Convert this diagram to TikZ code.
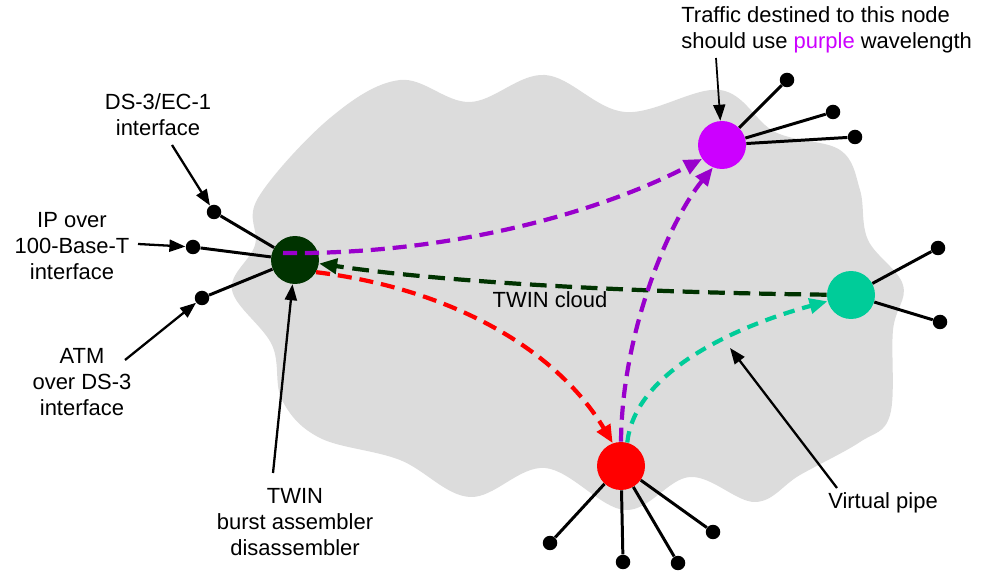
\documentclass[tikz,border=0pt]{standalone}
\usepackage{fontspec}
\setmainfont{Liberation Sans}
\usetikzlibrary{arrows.meta,calc}

\definecolor{cloudgray}{HTML}{DCDCDC}
\definecolor{hubdark}{HTML}{003300}
\definecolor{hubpurple}{HTML}{CC00FF}
\definecolor{pipepurple}{HTML}{9900CC}
\definecolor{hubteal}{HTML}{00CC99}
\definecolor{hubred}{HTML}{FF0000}

\tikzset{
  stub/.style={line width=1.7pt, draw=black},
  dot/.style={circle, fill=black, inner sep=0pt, minimum size=0.29cm},
  hub/.style={circle, inner sep=0pt, minimum size=0.96cm},
  callout/.style={line width=1.3pt, draw=black, -{Triangle[length=0.32cm,width=0.24cm]}},
  pipe/.style={line width=2.4pt, dash pattern=on 8pt off 4.5pt, -{Triangle[length=0.36cm,width=0.3cm]}},
  lbl/.style={font=\fontsize{12.5}{14.8}\selectfont, align=center, inner sep=0pt}
}

\begin{document}
\begin{tikzpicture}[x=0.02cm, y=-0.02cm]
\useasboundingbox (0,0) rectangle (993,573);

% the TWIN cloud
\fill[cloudgray] plot[smooth cycle, tension=0.6] coordinates {
 (258,198) (330,118) (400,80) (470,102) (545,75) (625,112) (720,90) (775,132)
 (840,150) (860,190) (868,240) (903,285) (893,330) (890,415) (860,442) (800,475)
 (755,502) (690,477) (625,510) (545,468) (470,497) (400,460) (320,438) (282,400)
 (272,345) (232,290) (255,245)};

% edge nodes
\node[hub, fill=hubdark]   (tb) at (295,260) {};
\node[hub, fill=hubpurple] (pn) at (722,145) {};
\node[hub, fill=hubteal]   (gn) at (851,295) {};
\node[hub, fill=hubred]    (rn) at (621,466) {};

% access ports
\node[dot] (t1) at (214,212) {};
\node[dot] (t2) at (193,247) {};
\node[dot] (t3) at (202,298) {};
\node[dot] (p1) at (787,80) {};
\node[dot] (p2) at (833,112) {};
\node[dot] (p3) at (855,137) {};
\node[dot] (g1) at (938,248) {};
\node[dot] (g2) at (940,322) {};
\node[dot] (r1) at (550,543) {};
\node[dot] (r2) at (623,562) {};
\node[dot] (r3) at (678,563) {};
\node[dot] (r4) at (713,532) {};

\draw[stub] (tb) -- (t1);
\draw[stub] (tb) -- (t2);
\draw[stub] (tb) -- (t3);
\draw[stub] (pn) -- (p1);
\draw[stub] (pn) -- (p2);
\draw[stub] (pn) -- (p3);
\draw[stub] (gn) -- (g1);
\draw[stub] (gn) -- (g2);
\draw[stub] (rn) -- (r1);
\draw[stub] (rn) -- (r2);
\draw[stub] (rn) -- (r3);
\draw[stub] (rn) -- (r4);

% virtual pipes (wavelength paths)
\draw[pipe, pipepurple] ($(tb)+(-12,-7)$) .. controls (450,255) and (600,212) .. (pn.-145);
\draw[pipe, hubdark, dash pattern=on 9.5pt off 5pt] (gn) .. controls (600,292) and (430,280) .. (tb);
\draw[pipe, hubred] (tb.-30) .. controls (460,290) and (560,355) .. (rn.110);
\draw[pipe, pipepurple] (rn.90) .. controls (622,330) and (670,220) .. (pn.-112);
\draw[pipe, hubteal, dash pattern=on 6.5pt off 4.5pt] (rn.75) .. controls (635,370) and (740,325) .. (gn.-165);

% labels
\node[lbl] (lds)  at (158,115) {DS-3/EC-1\\interface};
\node[lbl] (lip)  at (72,246)  {IP over\\100-Base-T\\interface};
\node[lbl] (latm) at (82,382)  {ATM\\over DS-3\\interface};
\node[lbl] (lbas) at (295,522) {TWIN\\burst assembler\\disassembler};
\node[lbl, align=left, anchor=west] (ltr) at (681,30)
  {Traffic destined to this node\\should use {\color{hubpurple}purple} wavelength};
\node[lbl] (lvp)  at (883,503) {Virtual pipe};
\node[lbl] (lcl)  at (550,300) {TWIN cloud};

% callout arrows
\coordinate (cds)  at (172,145);
\coordinate (cip)  at (138,244);
\coordinate (catm) at (125,360);
\coordinate (cbas) at (273,473);
\coordinate (ctr)  at (716,58);
\coordinate (cvp)  at (837,488);
\coordinate (vpt)  at (730,348);

\draw[callout] (cds) -- (t1);
\draw[callout] (cip) -- (t2);
\draw[callout] (catm) -- (t3);
\draw[callout] (cbas) -- (tb);
\draw[callout, line width=1pt] (ctr) -- (pn);
\draw[callout] (cvp) -- (vpt);
\end{tikzpicture}
\end{document}
